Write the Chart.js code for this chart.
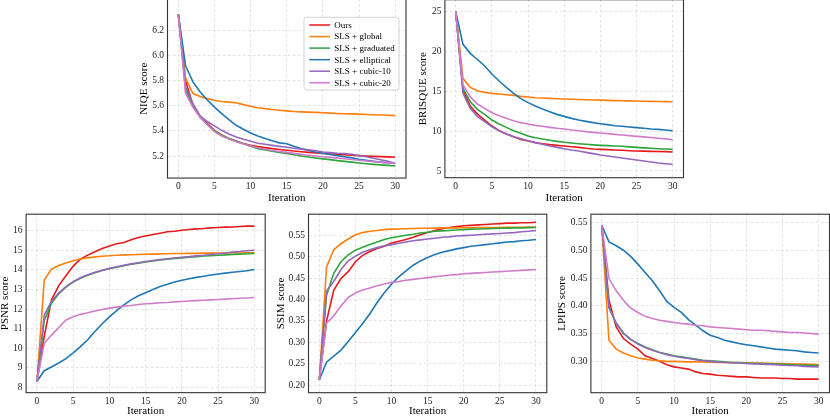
<!DOCTYPE html>
<html><head><meta charset="utf-8">
<script src="https://cdn.jsdelivr.net/npm/chart.js@4.4.1/dist/chart.umd.min.js"></script>
<style>
html,body{margin:0;padding:0;background:#fff;width:830px;height:416px;overflow:hidden;position:relative}
.p{position:absolute}
</style></head><body>
<script>
// ---------------- data ----------------
const iterations = [0,1,2,3,4,5,6,7,8,9,10,11,12,13,14,15,16,17,18,19,20,21,22,23,24,25,26,27,28,29,30];
const seriesNames = ['Ours','SLS + global','SLS + graduated','SLS + elliptical','SLS + cubic-10','SLS + cubic-20'];

const niqeOurs       = [6.33,5.80,5.61,5.52,5.46,5.405,5.368,5.34,5.32,5.30,5.285,5.275,5.267,5.259,5.252,5.246,5.24,5.234,5.229,5.225,5.221,5.217,5.213,5.21,5.206,5.203,5.2,5.197,5.195,5.193,5.19];
const niqeGlobal     = [6.33,5.82,5.70,5.675,5.658,5.645,5.635,5.63,5.625,5.61,5.597,5.585,5.578,5.571,5.565,5.56,5.555,5.552,5.55,5.548,5.545,5.542,5.539,5.537,5.536,5.534,5.531,5.529,5.527,5.525,5.522];
const niqeGraduated  = [6.33,5.73,5.60,5.51,5.45,5.40,5.365,5.34,5.318,5.298,5.278,5.258,5.248,5.238,5.229,5.221,5.21,5.2,5.192,5.184,5.177,5.171,5.163,5.157,5.151,5.144,5.138,5.133,5.129,5.125,5.12];
const niqeElliptical = [6.33,5.92,5.793,5.713,5.647,5.59,5.538,5.49,5.445,5.413,5.383,5.36,5.34,5.322,5.305,5.298,5.277,5.258,5.245,5.232,5.222,5.212,5.203,5.194,5.185,5.174,5.166,5.158,5.151,5.145,5.14];
const niqeCubic10    = [6.33,5.75,5.62,5.52,5.475,5.44,5.405,5.375,5.352,5.333,5.318,5.302,5.294,5.285,5.277,5.27,5.262,5.255,5.249,5.242,5.232,5.227,5.222,5.22,5.214,5.203,5.194,5.182,5.17,5.157,5.142];
const niqeCubic20    = [6.33,5.70,5.59,5.51,5.45,5.395,5.36,5.335,5.314,5.296,5.28,5.266,5.254,5.244,5.236,5.229,5.221,5.213,5.206,5.2,5.194,5.189,5.183,5.178,5.172,5.166,5.16,5.155,5.15,5.145,5.14];

const brisqueOurs       = [25,15.17,13.16,12.15,11.4,10.65,10.06,9.64,9.31,8.97,8.77,8.56,8.43,8.31,8.22,8.14,8.05,7.97,7.85,7.76,7.72,7.68,7.64,7.6,7.55,7.51,7.5,7.47,7.45,7.43,7.38];
const brisqueGlobal     = [25,16.63,15.5,15.08,14.87,14.75,14.67,14.58,14.5,14.37,14.29,14.2,14.16,14.12,14.08,14.04,14.0,13.98,13.95,13.92,13.9,13.87,13.84,13.82,13.8,13.78,13.76,13.74,13.72,13.71,13.7];
const brisqueGraduated  = [25,15.38,13.7,12.74,12.11,11.4,10.9,10.48,10.06,9.73,9.39,9.18,9.02,8.85,8.72,8.6,8.51,8.43,8.35,8.28,8.22,8.18,8.14,8.1,8.03,7.97,7.9,7.85,7.8,7.76,7.72];
const brisqueElliptical = [25,20.9,19.77,19.0,18.18,17.18,16.3,15.5,14.75,14.08,13.58,13.16,12.78,12.45,12.11,11.86,11.61,11.4,11.23,11.07,10.94,10.82,10.69,10.61,10.52,10.44,10.36,10.27,10.23,10.15,10.06];
const brisqueCubic10    = [25,14.75,12.87,11.82,11.19,10.56,10.06,9.64,9.31,9.06,8.81,8.56,8.35,8.14,7.97,7.8,7.64,7.51,7.34,7.18,7.01,6.88,6.76,6.63,6.51,6.38,6.26,6.13,6.0,5.92,5.84];
const brisqueCubic20    = [25,15.8,14.33,13.41,12.87,12.32,11.95,11.61,11.32,11.07,10.9,10.73,10.61,10.48,10.36,10.27,10.15,10.06,9.94,9.85,9.77,9.69,9.6,9.52,9.44,9.35,9.28,9.2,9.12,9.03,8.92];

const psnrOurs       = [8.3,10.6,12.46,13.2,13.7,14.2,14.55,14.76,14.93,15.1,15.23,15.34,15.4,15.54,15.66,15.74,15.81,15.88,15.95,15.98,16.03,16.07,16.1,16.12,16.15,16.17,16.19,16.2,16.22,16.24,16.24];
const psnrGlobal     = [8.3,13.48,14.04,14.23,14.36,14.47,14.56,14.62,14.67,14.7,14.73,14.75,14.77,14.78,14.79,14.8,14.81,14.82,14.83,14.84,14.84,14.85,14.85,14.86,14.86,14.86,14.87,14.87,14.87,14.88,14.88];
const psnrGraduated  = [8.3,11.4,12.3,12.78,13.12,13.38,13.58,13.73,13.86,13.97,14.06,14.14,14.22,14.29,14.35,14.41,14.46,14.51,14.55,14.59,14.62,14.65,14.68,14.71,14.73,14.75,14.77,14.79,14.81,14.83,14.85];
const psnrElliptical = [8.3,8.85,9.04,9.24,9.47,9.76,10.08,10.43,10.85,11.25,11.6,11.92,12.22,12.47,12.68,12.84,13.0,13.15,13.27,13.38,13.47,13.55,13.62,13.68,13.74,13.79,13.84,13.88,13.92,13.96,14.02];
const psnrCubic10    = [8.3,11.68,12.4,12.82,13.15,13.4,13.6,13.75,13.88,13.99,14.08,14.16,14.24,14.31,14.37,14.43,14.48,14.53,14.57,14.61,14.65,14.68,14.72,14.75,14.79,14.83,14.87,14.91,14.94,14.98,15.01];
const psnrCubic20    = [8.3,10.25,10.67,11.06,11.44,11.61,11.73,11.81,11.9,11.98,12.05,12.1,12.15,12.18,12.23,12.27,12.29,12.32,12.34,12.37,12.39,12.41,12.43,12.45,12.47,12.49,12.51,12.53,12.55,12.57,12.59];

const ssimOurs       = [0.213,0.35,0.422,0.449,0.465,0.488,0.503,0.512,0.519,0.524,0.532,0.536,0.54,0.545,0.551,0.556,0.561,0.565,0.568,0.57,0.572,0.573,0.574,0.575,0.576,0.577,0.578,0.578,0.579,0.579,0.58];
const ssimGlobal     = [0.213,0.476,0.516,0.53,0.541,0.551,0.556,0.559,0.561,0.563,0.564,0.5645,0.565,0.5655,0.566,0.566,0.5665,0.567,0.567,0.567,0.5675,0.5675,0.568,0.568,0.568,0.568,0.5685,0.5685,0.5685,0.569,0.569];
const ssimGraduated  = [0.213,0.41,0.461,0.488,0.504,0.515,0.522,0.528,0.534,0.54,0.544,0.547,0.55,0.552,0.555,0.557,0.559,0.56,0.561,0.562,0.563,0.564,0.5645,0.565,0.5655,0.566,0.5665,0.567,0.567,0.5675,0.568];
const ssimElliptical = [0.213,0.254,0.268,0.282,0.302,0.323,0.344,0.367,0.393,0.416,0.436,0.453,0.467,0.48,0.49,0.498,0.505,0.51,0.514,0.518,0.521,0.524,0.526,0.528,0.53,0.532,0.534,0.535,0.537,0.538,0.54];
const ssimCubic10    = [0.213,0.42,0.442,0.47,0.49,0.501,0.51,0.516,0.521,0.525,0.528,0.531,0.534,0.537,0.539,0.541,0.543,0.545,0.546,0.548,0.549,0.55,0.551,0.552,0.553,0.554,0.555,0.556,0.558,0.559,0.561];
const ssimCubic20    = [0.213,0.345,0.362,0.385,0.405,0.415,0.422,0.427,0.432,0.436,0.44,0.442,0.445,0.447,0.449,0.451,0.453,0.455,0.457,0.458,0.46,0.461,0.462,0.463,0.464,0.465,0.466,0.467,0.468,0.469,0.47];

const lpipsOurs       = [0.545,0.41,0.362,0.341,0.331,0.322,0.31,0.305,0.3,0.294,0.29,0.288,0.286,0.281,0.278,0.277,0.275,0.274,0.273,0.272,0.272,0.271,0.27,0.27,0.27,0.269,0.269,0.268,0.268,0.268,0.268];
const lpipsGlobal     = [0.545,0.338,0.322,0.315,0.31,0.306,0.304,0.302,0.301,0.3,0.3,0.2995,0.299,0.299,0.299,0.2985,0.298,0.298,0.298,0.2975,0.2975,0.297,0.297,0.2965,0.296,0.296,0.2955,0.295,0.295,0.2945,0.294];
const lpipsGraduated  = [0.545,0.398,0.368,0.35,0.339,0.332,0.326,0.321,0.316,0.313,0.31,0.308,0.306,0.304,0.302,0.301,0.3,0.299,0.298,0.298,0.297,0.2965,0.296,0.2955,0.295,0.2945,0.294,0.2935,0.293,0.293,0.2925];
const lpipsElliptical = [0.545,0.515,0.508,0.5,0.489,0.475,0.46,0.445,0.427,0.408,0.397,0.388,0.375,0.365,0.355,0.347,0.343,0.338,0.335,0.332,0.33,0.328,0.326,0.324,0.322,0.321,0.32,0.319,0.317,0.316,0.315];
const lpipsCubic10    = [0.545,0.396,0.369,0.351,0.34,0.331,0.325,0.32,0.316,0.312,0.309,0.307,0.305,0.303,0.301,0.3,0.299,0.298,0.297,0.297,0.296,0.2955,0.295,0.2945,0.294,0.293,0.2925,0.292,0.291,0.2905,0.29];
const lpipsCubic20    = [0.545,0.449,0.427,0.41,0.396,0.388,0.381,0.377,0.374,0.372,0.37,0.368,0.367,0.365,0.364,0.362,0.361,0.36,0.359,0.358,0.357,0.356,0.356,0.355,0.354,0.353,0.352,0.352,0.351,0.35,0.349];

const xTicks       = [0,5,10,15,20,25,30];
const niqeTicks    = [5.2,5.4,5.6,5.8,6.0,6.2];
const brisqueTicks = [5,10,15,20,25];
const psnrTicks    = [8,9,10,11,12,13,14,15,16];
const ssimTicks    = [0.20,0.25,0.30,0.35,0.40,0.45,0.50,0.55];
const lpipsTicks   = [0.30,0.35,0.40,0.45,0.50,0.55];

// ---------------- styles / layout ----------------
const colors = ['#e41a1c','#ff7f0e','#2ca53c','#1f77b4','#9467bd','#cf7ccb'];
const FONT = "'Liberation Serif', 'Times New Roman', serif";
const panels = [
  {title:'NIQE score',    series:[niqeOurs,niqeGlobal,niqeGraduated,niqeElliptical,niqeCubic10,niqeCubic20], ticks:niqeTicks, dec:1,
   L:167.5, R:406, yMin:5.024, yMax:6.45, y0:156, v0:5.2, y1:30.7, v1:6.2, titleX:144, titleY:198, legend:true},
  {title:'BRISQUE score', series:[brisqueOurs,brisqueGlobal,brisqueGraduated,brisqueElliptical,brisqueCubic10,brisqueCubic20], ticks:brisqueTicks, dec:0,
   L:444.9, R:683.5, yMin:4.16, yMax:26.5, y0:171, v0:5, y1:11.7, v1:25, titleX:422.7, titleY:198},
  {title:'PSNR score',    series:[psnrOurs,psnrGlobal,psnrGraduated,psnrElliptical,psnrCubic10,psnrCubic20], ticks:psnrTicks, dec:0,
   L:26.1, R:265.2, yMin:7.726, yMax:16.851, y0:387.3, v0:8, y1:230.7, v1:16, titleX:5.5, titleY:411.5},
  {title:'SSIM score',    series:[ssimOurs,ssimGlobal,ssimGraduated,ssimElliptical,ssimCubic10,ssimCubic20], ticks:ssimTicks, dec:2,
   L:308.5, R:546.8, yMin:0.1828, yMax:0.5989, y0:385.3, v0:0.20, y1:235, v1:0.55, titleX:281, titleY:411.5},
  {title:'LPIPS score',   series:[lpipsOurs,lpipsGlobal,lpipsGraduated,lpipsElliptical,lpipsCubic10,lpipsCubic20], ticks:lpipsTicks, dec:2,
   L:590.9, R:829.5, yMin:0.2435, yMax:0.5649, y0:361.3, v0:0.30, y1:222.3, v1:0.55, titleX:561.7, titleY:411.5}
];

const TITLE_SIZE = 11, TICK_SIZE = 9.5, LH = TITLE_SIZE * 1.2;

const framePlugin = {
  id: 'frame',
  afterDraw(chart) {
    const {ctx, chartArea: a} = chart;
    ctx.save();
    ctx.strokeStyle = '#333';
    ctx.lineWidth = 1.1;
    ctx.strokeRect(a.left, a.top, a.right - a.left, a.bottom - a.top);
    ctx.restore();
  }
};

function makeLegendPlugin(ox, oy) {
  return {
    id: 'boxLegend',
    afterDraw(chart) {
      const ctx = chart.ctx;
      const bx = 304 - ox, by = 17.3 - oy, bw = 95, bh = 72.7;
      ctx.save();
      ctx.beginPath();
      ctx.roundRect(bx, by, bw, bh, 2.5);
      ctx.fillStyle = 'rgba(255,255,255,0.85)';
      ctx.fill();
      ctx.strokeStyle = '#c8c8c8';
      ctx.lineWidth = 0.8;
      ctx.stroke();
      ctx.font = `9px ${FONT}`;
      ctx.textBaseline = 'middle';
      ctx.fillStyle = '#000';
      chart.data.datasets.forEach((ds, i) => {
        const yy = 25 - oy + i * 11.55;
        ctx.beginPath();
        ctx.moveTo(309.3 - ox, yy);
        ctx.lineTo(330 - ox, yy);
        ctx.strokeStyle = ds.borderColor;
        ctx.lineWidth = 1.5;
        ctx.stroke();
        ctx.fillText(ds.label, 334.3 - ox, yy + 0.5);
      });
      ctx.restore();
    }
  };
}

panels.forEach((p) => {
  const scaleY = (p.y0 - p.y1) / (p.v1 - p.v0);
  const T = p.y1 - (p.yMax - p.v1) * scaleY;
  const B = p.y0 + (p.v0 - p.yMin) * scaleY;
  const tl = p.titleX - LH / 2;
  const cl = Math.floor(tl), padL = tl - cl;
  const ct = Math.floor(T - 9), padT = T - ct;
  const cr = Math.ceil(p.R + 9), padR = cr - p.R;
  const bEdge = p.titleY + LH / 2;
  const cb = Math.ceil(bEdge), padB = cb - bEdge;
  const yW = p.L - cl - padL;
  const xH = bEdge - B;

  const div = document.createElement('div');
  div.className = 'p';
  div.style.left = cl + 'px'; div.style.top = ct + 'px';
  div.style.width = (cr - cl) + 'px'; div.style.height = (cb - ct) + 'px';
  const cv = document.createElement('canvas');
  div.appendChild(cv);
  document.body.appendChild(div);

  const datasets = p.series.map((arr, i) => ({
    label: seriesNames[i],
    data: arr.map((v, k) => ({x: iterations[k], y: v})),
    borderColor: colors[i],
    backgroundColor: colors[i],
    borderWidth: 1.6,
    pointRadius: 0,
    tension: 0,
    fill: false,
    order: p.series.length - i
  }));

  const plugins = [framePlugin];
  if (p.legend) plugins.push(makeLegendPlugin(cl, ct));

  new Chart(cv, {
    type: 'line',
    data: {datasets},
    plugins,
    options: {
      responsive: true,
      maintainAspectRatio: false,
      animation: false,
      layout: {padding: {left: padL, top: padT, right: padR, bottom: padB}},
      plugins: {legend: {display: false}, tooltip: {enabled: false}},
      scales: {
        x: {
          type: 'linear', min: -1.5, max: 31.5,
          afterBuildTicks: (s) => { s.ticks = xTicks.map(v => ({value: v})); },
          afterFit: (s) => { s.height = xH; },
          ticks: {autoSkip: false, maxRotation: 0, padding: 3, color: '#222',
                  font: {family: FONT, size: TICK_SIZE}, callback: (v) => String(v)},
          grid: {color: '#d8d8d8', lineWidth: 0.8, drawTicks: false},
          border: {display: false, dash: [2.5, 2.5]},
          title: {display: true, text: 'Iteration', color: '#000', padding: 0,
                  font: {family: FONT, size: TITLE_SIZE}}
        },
        y: {
          type: 'linear', min: p.yMin, max: p.yMax,
          afterBuildTicks: (s) => { s.ticks = p.ticks.map(v => ({value: v})); },
          afterFit: (s) => { s.width = yW; },
          ticks: {autoSkip: false, padding: 3.5, color: '#222',
                  font: {family: FONT, size: TICK_SIZE}, callback: (v) => Number(v).toFixed(p.dec)},
          grid: {color: '#d8d8d8', lineWidth: 0.8, drawTicks: false},
          border: {display: false, dash: [2.5, 2.5]},
          title: {display: true, text: p.title, color: '#000', padding: 0,
                  font: {family: FONT, size: TITLE_SIZE}}
        }
      }
    }
  });
});
</script>
</body></html>
